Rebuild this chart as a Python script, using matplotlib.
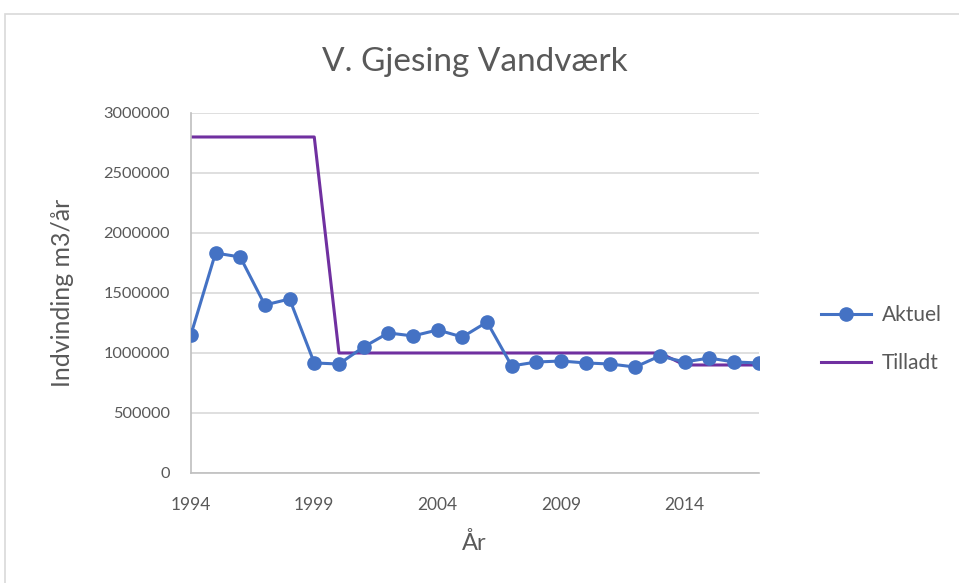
import matplotlib.pyplot as plt
from matplotlib.patches import Rectangle

years = list(range(1994, 2018))
aktuel = [1150000, 1833000, 1800000, 1400000, 1450000, 917000, 908000, 1050000,
          1167000, 1142000, 1192000, 1133000, 1258000, 892000, 925000, 933000,
          917000, 908000, 883000, 975000, 925000, 958000, 925000, 917000]
tilladt = [2800000] * 6 + [1000000] * 14 + [900000] * 4

xticks = [1994, 1999, 2004, 2009, 2014]
yticks = [0, 500000, 1000000, 1500000, 2000000, 2500000, 3000000]

txt = "#595959"
plt.rcParams['font.family'] = ['Lato', 'DejaVu Sans']

fig = plt.figure(figsize=(9.59, 5.83), dpi=100)
ax = fig.add_axes([0.199, 0.1887, 0.592, 0.6175])

# chart border
fig.patches.append(Rectangle((5 / 959, -0.01), 1.0, (583 - 14) / 583 + 0.01,
                             transform=fig.transFigure, fill=False,
                             edgecolor="#d9d9d9", linewidth=1.2))

ax.plot(years, aktuel, color="#4472C4", linewidth=2.2, marker="o",
        markersize=9.5, label="Aktuel", zorder=3)
ax.plot(years, tilladt, color="#7030A0", linewidth=2.2, label="Tilladt", zorder=2)

ax.set_xlim(1994, 2017)
ax.set_ylim(0, 3000000)
ax.set_xticks(xticks)
ax.set_yticks(yticks)
ax.set_yticklabels([str(v) for v in yticks])
ax.tick_params(length=0, labelsize=12.5, colors=txt)
ax.tick_params(axis="y", labelsize=11.8, pad=15)
ax.tick_params(axis="x", pad=17)
ax.grid(axis="y", color="#d9d9d9", linewidth=1.2)
ax.set_axisbelow(True)
for s in ["top", "right"]:
    ax.spines[s].set_visible(False)
for s in ["left", "bottom"]:
    ax.spines[s].set_color("#bfbfbf")
    ax.spines[s].set_linewidth(1.2)

ax.set_title("V. Gjesing Vandværk", fontsize=24, color=txt, pad=30)
ax.set_xlabel("År", fontsize=17, color=txt, labelpad=14)
ax.set_ylabel("Indvinding m3/år", fontsize=18, color=txt, labelpad=21)

leg = fig.legend(loc="center left", bbox_to_anchor=(0.837, 0.418), frameon=False,
                 fontsize=15, handlelength=2.4, handletextpad=0.5, labelspacing=1.35)
for t in leg.get_texts():
    t.set_color(txt)

fig.savefig("out.png", dpi=100)
